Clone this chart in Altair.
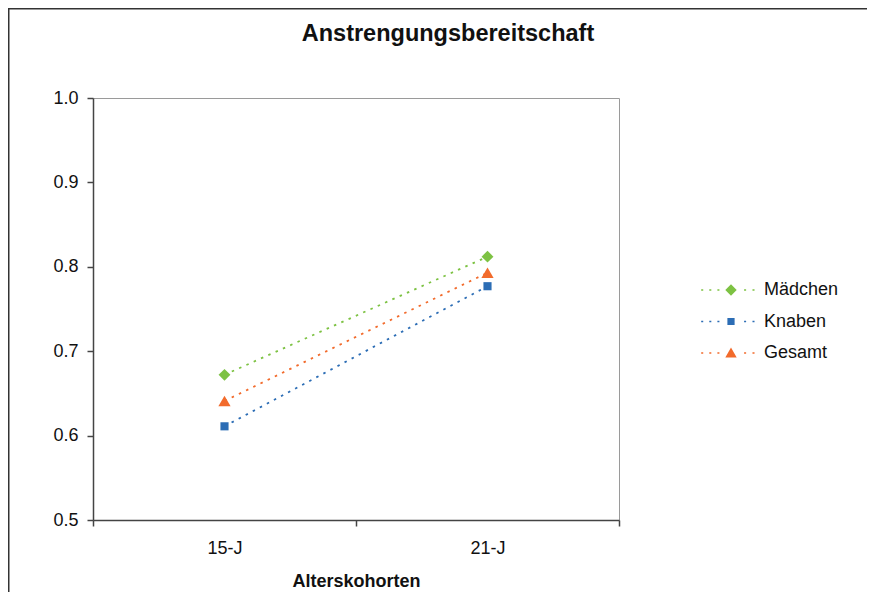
import altair as alt
import pandas as pd

# ---- data ----
kohorten = ["15-J", "21-J"]
serien = ["Mädchen", "Knaben", "Gesamt"]
maedchen = [0.672, 0.812]
knaben = [0.611, 0.777]
gesamt = [0.641, 0.793]
y_ticks = [0.5, 0.6, 0.7, 0.8, 0.9, 1.0]

# ---- styles ----
farben = ["#7DC243", "#2C6DB5", "#F26B2C"]
formen = ["diamond", "square", "triangle-up"]
groessen = [140, 66, 150]
FONT = "Liberation Sans"

rows = []
for name, vals in zip(serien, [maedchen, knaben, gesamt]):
    for k, v in zip(kohorten, vals):
        rows.append({"Kohorte": k, "Serie": name, "Wert": v})
df = pd.DataFrame(rows)

# legend symbols: marker plus dotted line segment (unit = 6px at size 144)
def dot(cx):
    return f"M{cx-0.17:.3f},-0.13H{cx+0.17:.3f}V0.13H{cx-0.17:.3f}Z"

dot_pos = [-4.8, -3.45, -2.1, 2.35, 3.75]
dots = "".join(dot(d) for d in dot_pos)
marker_paths = [
    "M0,-0.95L0.95,0L0,0.95L-0.95,0Z",
    "M-0.6,-0.6H0.6V0.6H-0.6Z",
    "M0,-0.9L0.95,0.75L-0.95,0.75Z",
]
legend_shapes = [m + dots for m in marker_paths]

x_enc = alt.X(
    "Kohorte:N",
    scale=alt.Scale(type="band", domain=kohorten, paddingInner=0, paddingOuter=0),
    axis=alt.Axis(title="Alterskohorten", tickBand="extent", labelAngle=0,
                  labelPadding=13, titlePadding=15, titleFontWeight="bold"),
)
y_enc = alt.Y(
    "Wert:Q",
    scale=alt.Scale(domain=[0.5, 1.0], nice=False, zero=False),
    axis=alt.Axis(values=y_ticks, format=".1f", title=None, grid=False, labelPadding=9),
)
color_scale = alt.Scale(domain=serien, range=farben)

legend_def = alt.Legend(
    title=None, orient="none", legendX=629, legendY=183,
    symbolSize=144, symbolStrokeWidth=0, symbolOpacity=1,
    labelFont=FONT, labelFontSize=18, labelColor="#111",
    labelOffset=24, rowPadding=13.5, padding=0,
)

base = alt.Chart(df)

lines = base.mark_line(strokeWidth=1.8, strokeDash=[2.5, 5.5], opacity=1).encode(
    x=x_enc, y=y_enc,
    color=alt.Color("Serie:N", scale=color_scale, legend=None),
    detail="Serie:N",
)

point_layers = [
    base.transform_filter(alt.datum.Serie == s)
    .mark_point(filled=True, opacity=1, shape=f, size=g)
    .encode(x=x_enc, y=y_enc,
            color=alt.Color("Serie:N", scale=color_scale, legend=None))
    for s, f, g in zip(serien, formen, groessen)
]

legend_layer = base.transform_filter("false").mark_point(filled=True, opacity=1, size=144).encode(
    color=alt.Color("Serie:N", scale=color_scale, legend=legend_def),
    shape=alt.Shape("Serie:N", scale=alt.Scale(domain=serien, range=legend_shapes),
                    legend=legend_def),
)

frame = alt.Chart(pd.DataFrame({"r": [0]})).mark_rect(
    fillOpacity=0, stroke="#333333", strokeWidth=1.5
).encode(
    x=alt.value(-84.25), x2=alt.value(900), y=alt.value(-89.25), y2=alt.value(700)
)

chart = (
    alt.layer(frame, lines, *point_layers, legend_layer)
    .resolve_scale(color="independent", shape="independent")
    .properties(
        width=526, height=422,
        autosize=alt.AutoSizeParams(type="none"),
        padding={"left": 85, "top": 90, "right": 248, "bottom": 72},
        title=alt.TitleParams(
            "Anstrengungsbereitschaft", font=FONT, fontSize=23.5, fontWeight="bold",
            color="#111", anchor="middle", frame="group", dx=92, offset=-37,
        ),
    )
    .configure_view(stroke="#9a9a9a", strokeWidth=1)
    .configure_axis(
        domainColor="#444", domainWidth=1.5, tickColor="#444", tickWidth=1.5, tickSize=6,
        labelFont=FONT, labelFontSize=18, labelColor="#111",
        titleFont=FONT, titleFontSize=18, titleColor="#111",
    )
)

chart.save("out.html", embed_options={"renderer": "svg", "actions": False})
